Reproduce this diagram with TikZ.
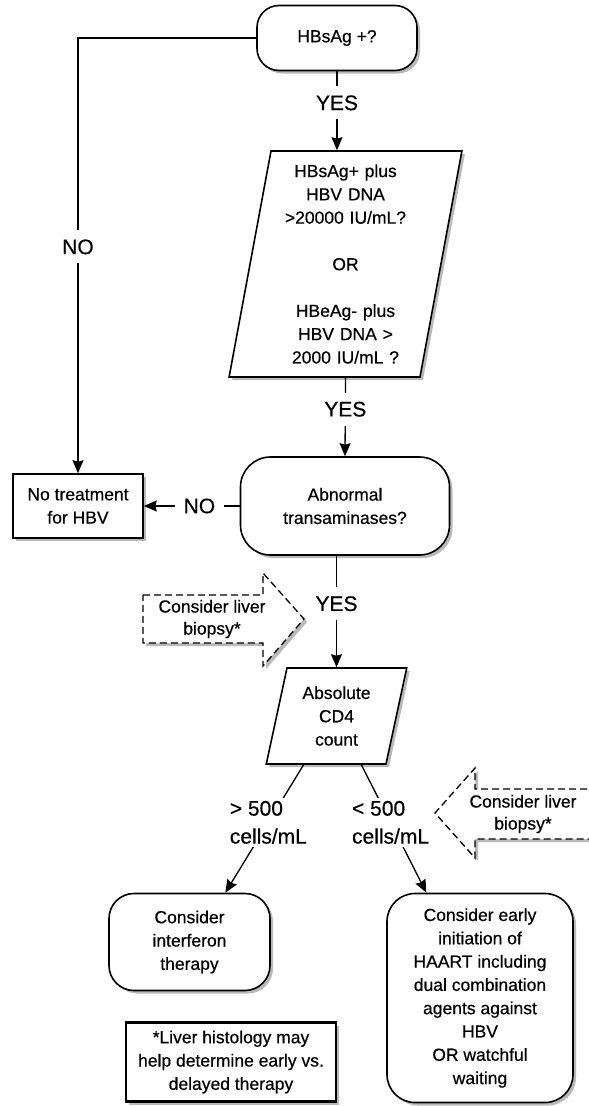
\documentclass[tikz,border=0pt]{standalone}
\usepackage{fontspec}
\setmainfont[FakeBold=0.5]{Liberation Sans}
\usetikzlibrary{shapes.geometric,shadows,arrows.meta}

\begin{document}
\begin{tikzpicture}[x=1pt,y=-1pt,>={Stealth[length=13pt,width=11pt,inset=1.5pt]},
  box/.style={draw,line width=1.6pt,fill=white,align=center,
    font=\fontsize{17.5pt}{23.3pt}\selectfont,
    drop shadow={shadow xshift=3pt,shadow yshift=-3pt,fill=black!55}},
  term/.style={box,rectangle,rounded corners=#1},
  para/.style={box,trapezium,trapezium stretches body,inner xsep=4pt},
  lbl/.style={fill=white,inner sep=9pt,font=\fontsize{21pt}{28pt}\selectfont},
  blbl/.style={fill=white,inner sep=3pt,align=left,font=\fontsize{21pt}{28pt}\selectfont},
  conn/.style={line width=1.3pt},
  hint/.style={dash pattern=on 7pt off 4pt,line width=1.3pt,fill=white,
    drop shadow={shadow xshift=3pt,shadow yshift=-3pt,fill=black!55}},
  hinttext/.style={align=center,font=\fontsize{17.5pt}{22pt}\selectfont}]
\useasboundingbox (0,0) rectangle (589,1106);

% decision boxes
\node[term=22pt,minimum width=160pt,minimum height=65pt] (hbsag) at (337,38) {HBsAg +?};
\node[para,trapezium left angle=78.5,trapezium right angle=101.5,text width=141pt,minimum height=226pt] (dna) at (345.5,264)
  {HBsAg+ plus\\HBV DNA\\>20000 IU/mL?\\[23.3pt]OR\\[23.3pt]HBeAg- plus\\HBV DNA >\\2000 IU/mL ?};
\node[term=30pt,minimum width=209pt,minimum height=98pt] (abn) at (345,506) {Abnormal\\transaminases?};
\node[box,rectangle,minimum width=130pt,minimum height=64pt] (notreat) at (78,506) {No treatment\\for HBV};
\node[para,trapezium left angle=72.6,trapezium right angle=107.4,text width=91pt,minimum height=96pt] (cd4) at (336.5,716) {Absolute\\CD4\\count};
\node[term=25pt,minimum width=161pt,minimum height=97pt] (ifn) at (189.5,942) {Consider\\interferon\\therapy};
\node[term=28pt,minimum width=186pt,minimum height=209pt] (haart) at (480,998)
  {Consider early\\initiation of\\HAART including\\dual combination\\agents against\\HBV\\OR watchful\\waiting};
\node[box,rectangle,line width=2.6pt,minimum width=210pt,minimum height=79pt] (foot) at (231,1062)
  {*Liver histology may\\help determine early vs.\\delayed therapy};

% biopsy hints
\draw[hint] (143,595) -- (263,595) -- (263,573) -- (304,619) -- (263,666) -- (263,643) -- (143,643) -- cycle;
\node[hinttext] (biopsy1) at (212,619) {Consider liver\\biopsy*};
\draw[hint] (620,789) -- (475,789) -- (475,768) -- (435,813) -- (475,858) -- (475,839) -- (620,839) -- cycle;
\node[hinttext] (biopsy2) at (523,814) {Consider liver\\biopsy*};

% connectors
\draw[conn,->] (hbsag.west) -| node[lbl,pos=0.74] {NO} (notreat.north);
\draw[conn,->] (hbsag.south) -- node[lbl,pos=0.4] {YES} (hbsag.south |- dna.north);
\draw[conn,->] (dna.south) -- node[lbl,pos=0.4] {YES} (abn.north);
\draw[conn,->] (abn.west) -- node[lbl,pos=0.42] {NO} (notreat.east);
\draw[conn,->] (abn.south -| cd4.north) -- node[lbl,pos=0.43] {YES} (cd4.north);
\draw[conn,->] (cd4.236) -- node[blbl,pos=0.45] {> 500\\cells/mL} (ifn.54);
\draw[conn,->] (cd4.297) -- node[blbl,pos=0.45] {< 500\\cells/mL} (haart.117);
\end{tikzpicture}
\end{document}
